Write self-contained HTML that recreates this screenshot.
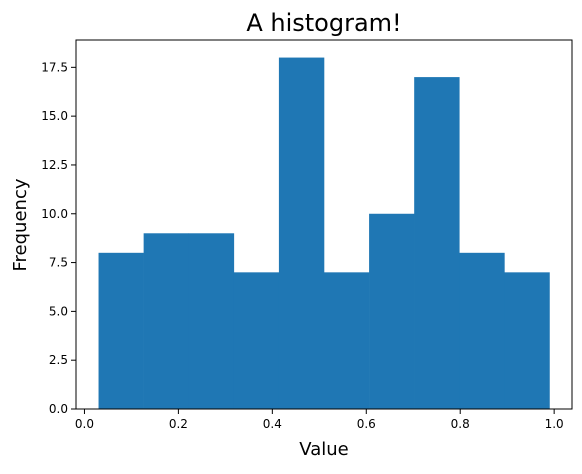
<!DOCTYPE html>
<html><head><meta charset="utf-8"><style>
body{margin:0;background:#fff;}
svg text{font-family:"DejaVu Sans","Liberation Sans",sans-serif;fill:#000;}
</style></head><body>
<svg id="chart" width="582" height="469" xmlns="http://www.w3.org/2000/svg">
<text x="324" y="31" font-size="24" text-anchor="middle">A histogram!</text>
<g id="bars"></g>
<g id="axes"></g>
<text x="324" y="455" font-size="18" text-anchor="middle">Value</text>
<text transform="translate(26,225) rotate(-90)" font-size="18" text-anchor="middle">Frequency</text>
</svg>
<script>
const binStart = 0.03;
const binEnd = 0.99;
const counts = [8, 9, 9, 7, 18, 7, 10, 17, 8, 7];
const xTicks = [0.0, 0.2, 0.4, 0.6, 0.8, 1.0];
const xTickLabels = ["0.0", "0.2", "0.4", "0.6", "0.8", "1.0"];
const yTicks = [0, 2.5, 5, 7.5, 10, 12.5, 15, 17.5];
const yTickLabels = ["0.0", "2.5", "5.0", "7.5", "10.0", "12.5", "15.0", "17.5"];

const L = 76, R = 572, T = 40, B = 409;
const pad = (binEnd - binStart) * 0.05;
const xmin = binStart - pad, xmax = binEnd + pad;
const ymax = Math.max(...counts) * 1.05;
const x = v => L + (v - xmin) / (xmax - xmin) * (R - L);
const y = v => B - v / ymax * (B - T);
const NS = "http://www.w3.org/2000/svg";
const bars = document.getElementById('bars');
const axes = document.getElementById('axes');
const w = (binEnd - binStart) / counts.length;
counts.forEach((c, i) => {
  const r = document.createElementNS(NS, 'rect');
  
  
  const x0 = x(binStart + i * w), x1 = x(binStart + (i + 1) * w);
  r.setAttribute('x', x0); r.setAttribute('width', x1 - x0 + 0.3);
  r.setAttribute('y', y(c)); r.setAttribute('height', B - y(c));
  r.setAttribute('fill', '#1f77b4');
  bars.appendChild(r);
});
const frame = document.createElementNS(NS, 'rect');


frame.setAttribute('x', L); frame.setAttribute('y', T);
frame.setAttribute('width', R - L); frame.setAttribute('height', B - T);
frame.setAttribute('fill', 'none'); frame.setAttribute('stroke', '#000'); frame.setAttribute('stroke-width', '1');
axes.appendChild(frame);
xTicks.forEach((t, i) => {
  const l = document.createElementNS(NS, 'line');
  
  
  l.setAttribute('x1', x(t)); l.setAttribute('x2', x(t));
  l.setAttribute('y1', B); l.setAttribute('y2', B + 5); l.setAttribute('stroke', '#000');
  axes.appendChild(l);
  const tx = document.createElementNS(NS, 'text');
  
  
  tx.setAttribute('x', x(t)); tx.setAttribute('y', B + 19);
  tx.setAttribute('font-size', '12'); tx.setAttribute('text-anchor', 'middle');
  tx.textContent = xTickLabels[i];
  axes.appendChild(tx);
});
yTicks.forEach((t, i) => {
  const l = document.createElementNS(NS, 'line');
  
  
  l.setAttribute('x1', L - 5); l.setAttribute('x2', L);
  l.setAttribute('y1', y(t)); l.setAttribute('y2', y(t)); l.setAttribute('stroke', '#000');
  axes.appendChild(l);
  const tx = document.createElementNS(NS, 'text');
  
  
  tx.setAttribute('x', L - 8); tx.setAttribute('y', y(t) + 4);
  tx.setAttribute('font-size', '12'); tx.setAttribute('text-anchor', 'end');
  tx.textContent = yTickLabels[i];
  axes.appendChild(tx);
});
</script>
</body></html>
